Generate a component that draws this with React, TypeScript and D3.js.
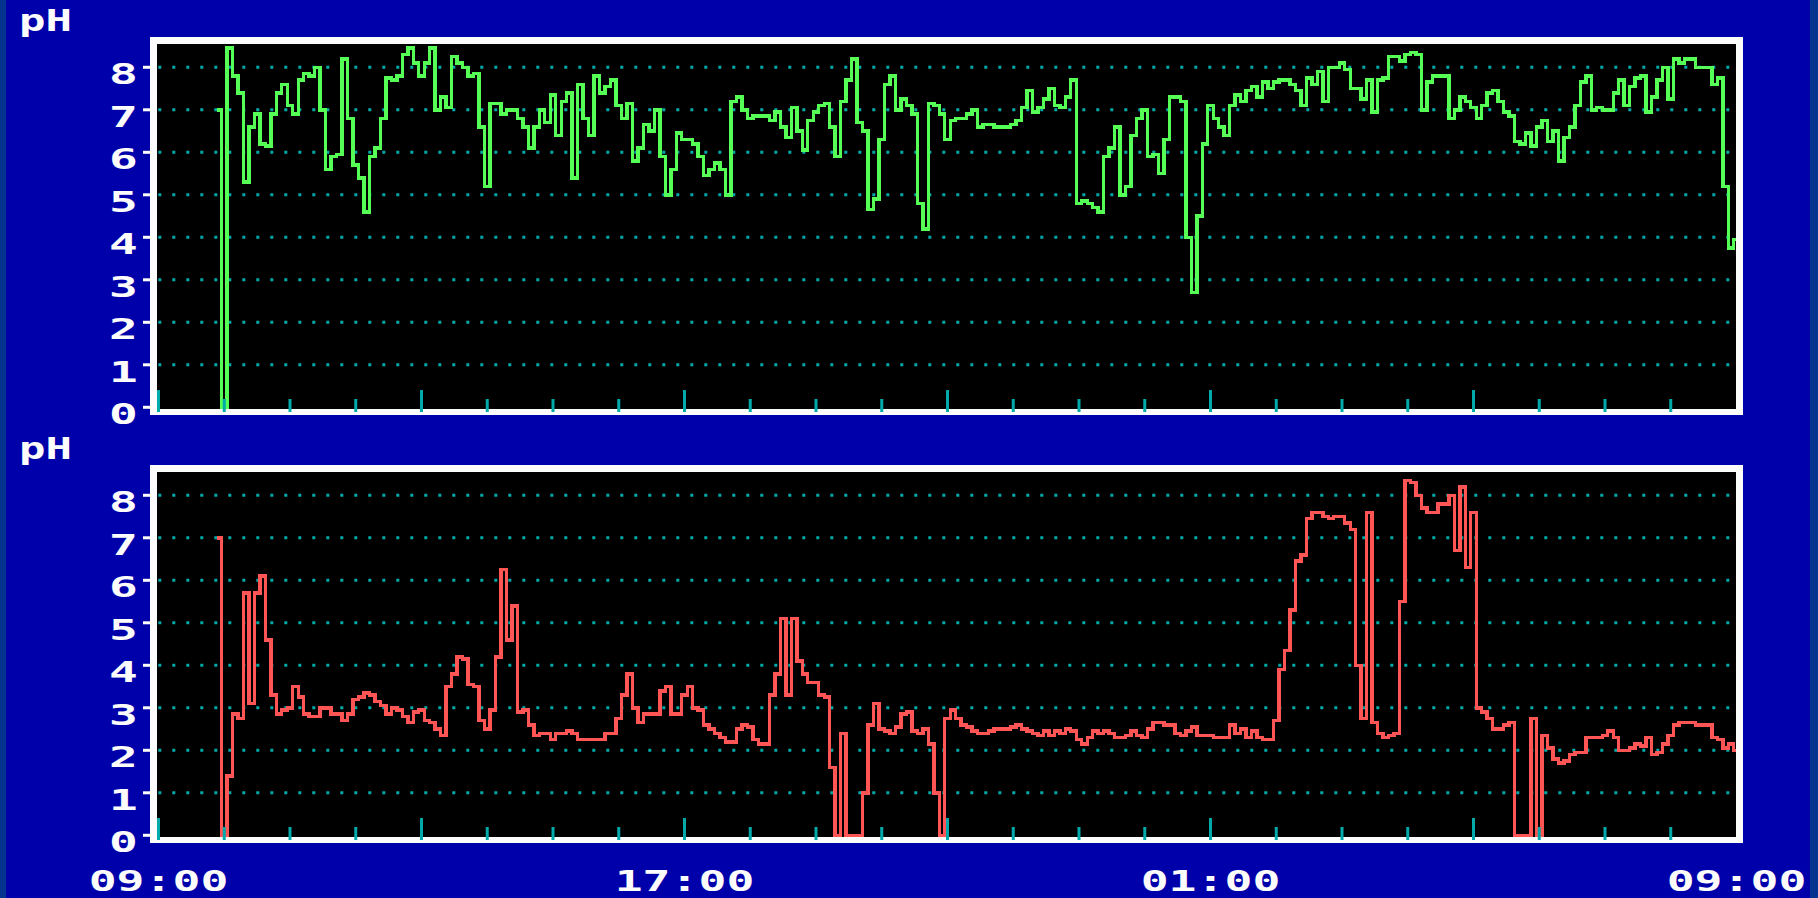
import { useEffect, useRef } from 'react'
import * as d3 from 'd3'

const _ = null

// upper probe, one reading every 5 minutes starting 09:00 (one row = one hour)
const upperPh: (number | null)[] = [
  _, _, _, _, _, _, _, _, _, _, _, 7.0,
  0, 8.45, 7.8, 7.4, 5.3, 6.6, 6.9, 6.2, 6.15, 6.9, 7.4, 7.6,
  7.1, 6.9, 7.7, 7.85, 7.8, 8.0, 7.0, 5.6, 5.9, 5.95, 8.2, 6.8,
  5.7, 5.4, 4.6, 5.9, 6.1, 6.8, 7.75, 7.7, 7.8, 8.3, 8.45, 8.1,
  7.8, 8.1, 8.45, 7.0, 7.3, 7.05, 8.25, 8.1, 8.0, 7.8, 7.85, 6.6,
  5.2, 7.15, 7.15, 6.9, 7.0, 7.0, 6.8, 6.6, 6.1, 6.6, 7.0, 6.7,
  7.35, 6.4, 7.2, 7.4, 5.4, 7.6, 6.8, 6.4, 7.8, 7.4, 7.55, 7.7,
  7.1, 6.8, 7.15, 5.8, 6.1, 6.65, 6.5, 7.0, 5.9, 5.0, 5.6, 6.45,
  6.3, 6.3, 6.2, 5.9, 5.45, 5.6, 5.75, 5.6, 5.0, 7.2, 7.3, 7.0,
  6.8, 6.85, 6.85, 6.85, 6.75, 6.95, 6.6, 6.35, 7.05, 6.5, 6.05, 6.75,
  6.95, 7.1, 7.15, 6.6, 5.9, 7.2, 7.7, 8.2, 6.7, 6.5, 4.65, 4.9,
  6.3, 7.6, 7.8, 7.0, 7.25, 7.1, 6.9, 4.8, 4.2, 7.15, 7.1, 6.9,
  6.3, 6.75, 6.8, 6.8, 6.9, 7.0, 6.6, 6.65, 6.65, 6.6, 6.6, 6.6,
  6.65, 6.75, 7.05, 7.45, 6.95, 7.05, 7.25, 7.5, 7.1, 7.05, 7.3, 7.7,
  4.8, 4.85, 4.8, 4.7, 4.6, 5.9, 6.1, 6.6, 5.0, 5.2, 6.4, 6.8,
  7.0, 5.9, 5.95, 5.5, 6.3, 7.3, 7.3, 7.2, 4.0, 2.7, 4.5, 6.2,
  7.1, 6.8, 6.6, 6.4, 7.1, 7.35, 7.2, 7.45, 7.55, 7.3, 7.65, 7.5,
  7.65, 7.7, 7.7, 7.6, 7.45, 7.1, 7.75, 7.6, 7.9, 7.2, 8.0, 8.0,
  8.1, 7.95, 7.5, 7.5, 7.25, 7.7, 6.95, 7.7, 7.75, 8.25, 8.25, 8.15,
  8.3, 8.35, 8.3, 7.0, 7.65, 7.8, 7.8, 7.8, 6.8, 7.0, 7.3, 7.2,
  7.05, 6.8, 7.1, 7.4, 7.45, 7.2, 6.95, 6.85, 6.25, 6.2, 6.45, 6.15,
  6.6, 6.75, 6.25, 6.5, 5.8, 6.35, 6.6, 7.1, 7.65, 7.8, 7.0, 7.05,
  7.0, 7.0, 7.4, 7.7, 7.1, 7.55, 7.75, 7.8, 6.95, 7.3, 7.7, 8.0,
  7.25, 8.2, 8.1, 8.2, 8.2, 8.0, 8.0, 8.0, 7.6, 7.75, 5.2, 3.75,
  3.95,
]

// lower probe, same sampling
const lowerPh: (number | null)[] = [
  _, _, _, _, _, _, _, _, _, _, _, 7.0,
  0, 1.4, 2.85, 2.75, 5.7, 3.1, 5.7, 6.1, 4.6, 3.3, 2.85, 2.95,
  3.0, 3.5, 3.25, 2.85, 2.8, 2.8, 3.0, 3.0, 2.85, 2.85, 2.7, 2.85,
  3.2, 3.25, 3.35, 3.3, 3.15, 3.05, 2.85, 3.0, 2.95, 2.8, 2.65, 2.9,
  2.95, 2.7, 2.65, 2.5, 2.35, 3.5, 3.8, 4.2, 4.15, 3.55, 3.5, 2.7,
  2.5, 2.95, 4.2, 6.25, 4.6, 5.4, 2.9, 2.95, 2.6, 2.35, 2.4, 2.4,
  2.25, 2.4, 2.4, 2.45, 2.4, 2.25, 2.25, 2.25, 2.25, 2.25, 2.4, 2.4,
  2.75, 3.3, 3.8, 3.0, 2.65, 2.85, 2.85, 2.85, 3.4, 3.5, 2.85, 2.85,
  3.3, 3.5, 3.0, 2.95, 2.6, 2.5, 2.4, 2.3, 2.2, 2.2, 2.5, 2.6,
  2.55, 2.25, 2.15, 2.15, 3.3, 3.8, 5.1, 3.3, 5.1, 4.1, 3.8, 3.6,
  3.6, 3.3, 3.25, 1.6, 0, 2.4, 0, 0, 0, 1.0, 2.6, 3.1,
  2.5, 2.45, 2.4, 2.55, 2.85, 2.9, 2.45, 2.4, 2.5, 2.15, 1.0, 0,
  2.75, 2.95, 2.75, 2.6, 2.55, 2.45, 2.4, 2.4, 2.45, 2.5, 2.5, 2.5,
  2.55, 2.6, 2.5, 2.45, 2.4, 2.35, 2.45, 2.35, 2.45, 2.4, 2.5, 2.45,
  2.25, 2.15, 2.3, 2.45, 2.4, 2.45, 2.4, 2.3, 2.3, 2.35, 2.45, 2.35,
  2.3, 2.5, 2.65, 2.65, 2.6, 2.6, 2.4, 2.35, 2.45, 2.55, 2.35, 2.35,
  2.35, 2.3, 2.3, 2.3, 2.6, 2.4, 2.5, 2.3, 2.45, 2.3, 2.25, 2.25,
  2.7, 3.9, 4.35, 5.3, 6.45, 6.6, 7.45, 7.6, 7.6, 7.5, 7.45, 7.5,
  7.5, 7.35, 7.2, 4.0, 2.75, 7.6, 2.65, 2.4, 2.3, 2.35, 2.4, 5.5,
  8.35, 8.3, 8.0, 7.7, 7.6, 7.6, 7.8, 7.8, 8.0, 6.7, 8.2, 6.3,
  7.6, 3.0, 2.9, 2.75, 2.5, 2.5, 2.6, 2.65, 0, 0, 0, 2.75,
  0, 2.35, 2.05, 1.8, 1.7, 1.75, 1.9, 1.95, 1.95, 2.3, 2.3, 2.3,
  2.35, 2.45, 2.3, 2.0, 2.0, 2.05, 2.15, 2.1, 2.3, 1.9, 1.95, 2.15,
  2.35, 2.6, 2.65, 2.65, 2.65, 2.6, 2.6, 2.6, 2.3, 2.25, 2.05, 2.15,
  2.0,
]

const STEP_MINUTES = 5
const PH_TICKS = [0, 1, 2, 3, 4, 5, 6, 7, 8]
const GRID_VALUES = [1, 2, 3, 4, 5, 6, 7, 8]
const HOUR_TICKS = d3.range(0, 24)
const TIME_LABELS = ['09:00', '17:00', '01:00', '09:00']
const TIME_LABEL_HOURS = [0, 8, 16, 24]

const W = 1818
const H = 898
const BLUE = '#0000AA'
const EDGE = '#04348E'
const WHITE = '#FCFCFC'
const CYAN = '#00AAAA'
const FONT = '"DejaVu Sans Mono", monospace'

const drawChart = (el: SVGSVGElement) => {
  const svg = d3.select(el)
  svg.selectAll('*').remove()

  svg.append('rect').attr('width', W).attr('height', H).attr('fill', BLUE)
  svg.append('rect').attr('x', 0).attr('width', 6).attr('height', H).attr('fill', EDGE)
  svg.append('rect').attr('x', 1810).attr('width', 8).attr('height', H).attr('fill', EDGE)

  const x = d3.scaleLinear().domain([0, 24]).range([158.5, 1736.5])

  const panels = [
    { data: upperPh, color: '#55FF55', base: 407.3 },
    { data: lowerPh, color: '#FF5555', base: 835.3 },
  ]

  panels.forEach((p, k) => {
    const y = d3.scaleLinear().domain([0, 8]).range([p.base, p.base - 340])
    const innerTop = p.base - 363.3
    const innerBottom = p.base + 1.7
    const g = svg.append('g')

    // frame + plot area
    g.append('rect')
      .attr('x', 150)
      .attr('y', innerTop - 7)
      .attr('width', 1593)
      .attr('height', innerBottom + 6 - (innerTop - 7))
      .attr('fill', WHITE)
    g.append('rect')
      .attr('x', 157)
      .attr('y', innerTop)
      .attr('width', 1579)
      .attr('height', innerBottom - innerTop)
      .attr('fill', '#000')

    // dotted grid
    g.append('g')
      .selectAll('line')
      .data(GRID_VALUES)
      .join('line')
      .attr('x1', 158.3)
      .attr('x2', 1733)
      .attr('y1', (d) => y(d))
      .attr('y2', (d) => y(d))
      .attr('stroke', CYAN)
      .attr('stroke-width', 3)
      .attr('stroke-dasharray', '3 11')

    const clipId = `plot-clip-${k}`
    svg
      .append('clipPath')
      .attr('id', clipId)
      .append('rect')
      .attr('x', 157)
      .attr('y', innerTop)
      .attr('width', 1579)
      .attr('height', innerBottom - innerTop)

    const line = d3
      .line<number | null>()
      .defined((d) => d != null)
      .x((_d, i) => x((i * STEP_MINUTES) / 60))
      .y((d) => y(d as number))
      .curve(d3.curveStep)

    g.append('path')
      .datum(p.data)
      .attr('d', line as any)
      .attr('fill', 'none')
      .attr('stroke', p.color)
      .attr('stroke-width', 3.4)
      .attr('stroke-linecap', 'square')
      .attr('shape-rendering', 'crispEdges')
      .attr('clip-path', `url(#${clipId})`)

    // hour ticks
    g.append('g')
      .selectAll('rect')
      .data(HOUR_TICKS)
      .join('rect')
      .attr('x', (h) => x(h) - 1.5)
      .attr('width', 3)
      .attr('y', (h) => (h % 4 === 0 ? p.base - 17.3 : p.base - 8.3))
      .attr('height', (h) => (h % 4 === 0 ? 22 : 13))
      .attr('fill', CYAN)

    // pH ticks and labels
    g.append('g')
      .selectAll('rect')
      .data(PH_TICKS)
      .join('rect')
      .attr('x', 143)
      .attr('width', 7)
      .attr('y', (v) => y(v) - 1.5)
      .attr('height', 3)
      .attr('fill', WHITE)

    g.append('g')
      .attr('font-family', FONT)
      .attr('font-weight', 'bold')
      .attr('font-size', 29)
      .attr('fill', WHITE)
      .attr('text-anchor', 'middle')
      .selectAll('text')
      .data(PH_TICKS)
      .join('text')
      .attr('transform', (v) => `translate(123.5,${y(v) + 17}) scale(1.65,1)`)
      .text((v) => v)

    g.append('text')
      .attr('font-family', FONT)
      .attr('font-weight', 'bold')
      .attr('font-size', 31)
      .attr('fill', WHITE)
      .attr('transform', `translate(19,${p.base - 376}) scale(1.42,1)`)
      .text('pH')
  })

  svg
    .append('g')
    .attr('font-family', FONT)
    .attr('font-weight', 'bold')
    .attr('font-size', 29)
    .attr('fill', WHITE)
    .attr('text-anchor', 'middle')
    .selectAll('text')
    .data(TIME_LABELS)
    .join('text')
    .attr('transform', (_d, i) => `translate(${x(TIME_LABEL_HOURS[i])},891) scale(1.6,1)`)
    .text((d) => d)
}

export default function App() {
  const ref = useRef<SVGSVGElement>(null)
  useEffect(() => {
    if (ref.current) drawChart(ref.current)
  }, [])
  return (
    <svg
      ref={ref}
      width={W}
      height={H}
      style={{ position: 'absolute', left: 0, top: 0, display: 'block' }}
    />
  )
}
